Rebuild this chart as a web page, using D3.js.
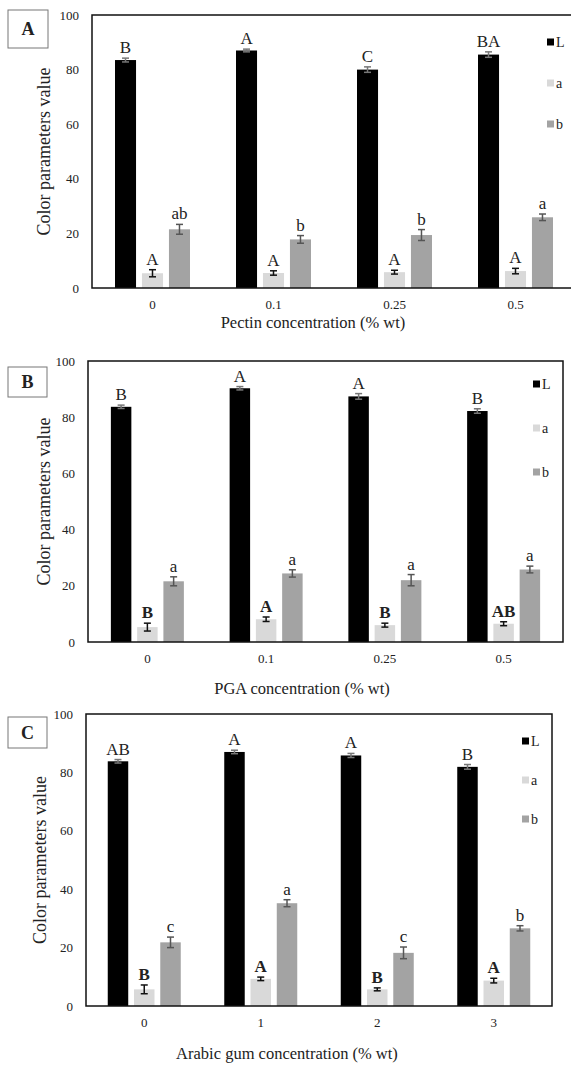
<!DOCTYPE html>
<html>
<head>
<meta charset="utf-8">
<script src="https://cdn.jsdelivr.net/npm/d3@7"></script>
<style>
  body { margin: 0; background: #fff; }
  svg text { font-family: 'Liberation Serif', serif !important; fill: #222; }
</style>
</head>
<body>
<script>
// series
const seriesKeys = ['L', 'a', 'b']
const seriesColors = ['#000000', '#d9d9d9', '#a3a3a3']
const errColors = ['#777777', '#111111', '#555555']

// panel A - pectin
const pectinConc = ['0', '0.1', '0.25', '0.5']
const pectinL = [83.5, 87.0, 80.0, 85.5]
const pectinLErr = [0.7, 0.5, 1.0, 1.0]
const pectinA = [5.4, 5.5, 5.8, 6.2]
const pectinAErr = [1.3, 0.8, 0.7, 1.0]
const pectinB = [21.5, 17.8, 19.4, 25.9]
const pectinBErr = [1.8, 1.4, 2.0, 1.2]
const pectinLetL = ['B', 'A', 'C', 'BA']
const pectinLetA = ['A', 'A', 'A', 'A']
const pectinLetB = ['ab', 'b', 'b', 'a']

// panel B - PGA
const pgaConc = ['0', '0.1', '0.25', '0.5']
const pgaL = [83.7, 90.3, 87.4, 82.2]
const pgaLErr = [0.6, 0.6, 1.0, 0.8]
const pgaA = [5.3, 8.1, 6.0, 6.5]
const pgaAErr = [1.4, 0.8, 0.7, 0.7]
const pgaB = [21.6, 24.4, 22.0, 25.8]
const pgaBErr = [1.6, 1.3, 2.0, 1.2]
const pgaLetL = ['B', 'A', 'A', 'B']
const pgaLetA = ['B', 'A', 'B', 'AB']
const pgaLetB = ['a', 'a', 'a', 'a']

// panel C - arabic gum
const gumConc = ['0', '1', '2', '3']
const gumL = [83.8, 87.0, 85.8, 81.9]
const gumLErr = [0.6, 0.6, 0.7, 0.8]
const gumA = [5.7, 9.3, 5.7, 8.7]
const gumAErr = [1.5, 0.6, 0.5, 0.8]
const gumB = [21.8, 35.2, 18.2, 26.6]
const gumBErr = [1.8, 1.2, 2.0, 0.9]
const gumLetL = ['AB', 'A', 'A', 'B']
const gumLetA = ['B', 'A', 'B', 'A']
const gumLetB = ['c', 'a', 'c', 'b']

const yTicks = [0, 20, 40, 60, 80, 100]
const serif = "'Liberation Serif', serif"

const svg = d3.select('body').append('svg')
  .attr('width', 571)
  .attr('height', 1065)
  .style('font-family', serif)

function panel(p) {
  const rows = p.conc.map((c, i) => ({
    conc: c,
    vals: seriesKeys.map((k, j) => ({
      key: k, j: j,
      v: p.vals[j][i], e: p.errs[j][i], letter: p.letters[j][i]
    }))
  }))

  const x0 = d3.scaleBand().domain(p.conc).range([p.left, p.right])
  const x1 = d3.scaleBand().domain(seriesKeys)
    .range([x0.bandwidth() / 2 - p.groupW / 2, x0.bandwidth() / 2 + p.groupW / 2])
    .paddingInner(0.22)
  const y = d3.scaleLinear().domain([0, 100]).range([p.bottom, p.top])

  const g = svg.append('g')

  // y axis labels
  g.append('g')
    .attr('transform', `translate(${p.left},0)`)
    .call(d3.axisLeft(y).tickValues(yTicks).tickSize(0).tickPadding(13))
    .attr('font-family', serif)
    .attr('font-size', 13)
    .call(a => a.select('.domain').remove())
    .selectAll('text')
    .attr('fill', '#222')

  // x axis labels
  g.append('g')
    .attr('transform', `translate(0,${p.bottom})`)
    .call(d3.axisBottom(x0).tickSize(0).tickPadding(12))
    .attr('font-family', serif)
    .attr('font-size', 13)
    .call(a => a.select('.domain').remove())
    .selectAll('text')
    .attr('fill', '#222')

  const grp = g.selectAll('.grp')
    .data(rows)
    .enter()
    .append('g')
    .attr('transform', d => `translate(${x0(d.conc)},0)`)

  grp.selectAll('rect')
    .data(d => d.vals)
    .enter()
    .append('rect')
    .attr('x', d => x1(d.key))
    .attr('width', x1.bandwidth())
    .attr('y', d => y(d.v))
    .attr('height', d => y(0) - y(d.v))
    .attr('fill', d => seriesColors[d.j])

  // error bars
  const err = grp.selectAll('.err')
    .data(d => d.vals)
    .enter()
    .append('g')
    .attr('stroke', d => errColors[d.j])
    .attr('stroke-width', 1.5)
  err.append('line')
    .attr('x1', d => x1(d.key) + x1.bandwidth() / 2)
    .attr('x2', d => x1(d.key) + x1.bandwidth() / 2)
    .attr('y1', d => y(d.v - d.e))
    .attr('y2', d => y(d.v + d.e))
  err.selectAll('.cap')
    .data(d => [d.v - d.e, d.v + d.e].map(v => ({ v: v, d: d })))
    .enter()
    .append('line')
    .attr('x1', c => x1(c.d.key) + x1.bandwidth() / 2 - 3.5)
    .attr('x2', c => x1(c.d.key) + x1.bandwidth() / 2 + 3.5)
    .attr('y1', c => y(c.v))
    .attr('y2', c => y(c.v))

  // significance letters
  grp.selectAll('.let')
    .data(d => d.vals)
    .enter()
    .append('text')
    .attr('x', d => x1(d.key) + x1.bandwidth() / 2)
    .attr('y', d => y(d.v + d.e) - 5)
    .attr('text-anchor', 'middle')
    .style('font-size', '17px')
    .style('font-weight', d => (p.boldA && d.key === 'a') ? 'bold' : 'normal')
    .text(d => d.letter)

  // frame
  g.append('rect')
    .attr('x', p.left)
    .attr('y', p.top)
    .attr('width', p.right - p.left)
    .attr('height', p.bottom - p.top)
    .attr('fill', 'none')
    .attr('stroke', '#111')
    .attr('stroke-width', 1.5)

  // legend
  const leg = g.selectAll('.leg')
    .data(seriesKeys)
    .enter()
    .append('g')
    .attr('transform', (d, i) => `translate(${p.legX},${p.top + p.legY + i * p.legStep})`)
  leg.append('rect')
    .attr('x', 0).attr('y', -3.5)
    .attr('width', 7).attr('height', 7)
    .attr('fill', (d, i) => seriesColors[i])
  leg.append('text')
    .attr('x', 9).attr('y', 5)
    .style('font-size', '14px')
    .text(d => d)

  // y title
  g.append('text')
    .attr('transform', `translate(${p.yTitleX},${(p.top + p.bottom) / 2}) rotate(-90)`)
    .attr('text-anchor', 'middle')
    .style('font-size', '18px')
    .text('Color parameters value')

  // x title
  g.append('text')
    .attr('x', p.xTitleX)
    .attr('y', p.xTitleY)
    .attr('text-anchor', 'middle')
    .style('font-size', '16.5px')
    .text(p.xTitle)

  // panel tag
  g.append('rect')
    .attr('x', p.tag[0]).attr('y', p.tag[1])
    .attr('width', p.tag[2]).attr('height', p.tag[3])
    .attr('fill', '#fff')
    .attr('stroke', '#777')
  g.append('text')
    .attr('x', p.tag[0] + p.tag[2] / 2)
    .attr('y', p.tag[1] + p.tag[3] / 2 + 6)
    .attr('text-anchor', 'middle')
    .style('font-size', '18px')
    .style('font-weight', 'bold')
    .text(p.name)
}

panel({
  name: 'A', conc: pectinConc,
  vals: [pectinL, pectinA, pectinB], errs: [pectinLErr, pectinAErr, pectinBErr],
  letters: [pectinLetL, pectinLetA, pectinLetB], boldA: false,
  left: 92, right: 576, top: 15, bottom: 288, groupW: 75,
  legX: 547, legY: 27, legStep: 41,
  yTitleX: 50, xTitle: 'Pectin concentration (% wt)', xTitleX: 313, xTitleY: 328,
  tag: [8, 10, 40, 38]
})

panel({
  name: 'B', conc: pgaConc,
  vals: [pgaL, pgaA, pgaB], errs: [pgaLErr, pgaAErr, pgaBErr],
  letters: [pgaLetL, pgaLetA, pgaLetB], boldA: true,
  left: 88, right: 563, top: 361, bottom: 642, groupW: 73,
  legX: 533, legY: 23, legStep: 44,
  yTitleX: 50, xTitle: 'PGA concentration (% wt)', xTitleX: 302, xTitleY: 694,
  tag: [8, 367, 39, 30]
})

panel({
  name: 'C', conc: gumConc,
  vals: [gumL, gumA, gumB], errs: [gumLErr, gumAErr, gumBErr],
  letters: [gumLetL, gumLetA, gumLetB], boldA: true,
  left: 86, right: 552, top: 714, bottom: 1006, groupW: 73,
  legX: 522, legY: 27, legStep: 39,
  yTitleX: 46, xTitle: 'Arabic gum concentration (% wt)', xTitleX: 287, xTitleY: 1059,
  tag: [8, 717, 39, 31]
})
</script>
</body>
</html>
